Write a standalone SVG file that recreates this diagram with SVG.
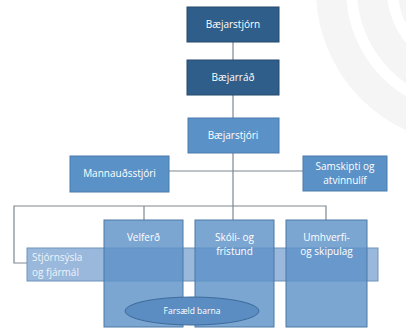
<svg xmlns="http://www.w3.org/2000/svg" width="406" height="332" viewBox="0 0 406 332">
<style>
.dark{fill:#2f5e8a;stroke:#24496d;stroke-width:1}
.mid{fill:#5a92c8;stroke:#4a7bab;stroke-width:1}
.unit{fill:#5e93c8;fill-opacity:0.82;stroke:#4c78a6;stroke-width:1}
.strip{fill:#87acd6;fill-opacity:0.85;stroke:#6f93bb;stroke-width:1}
.t{font-family:"Open Sans","Liberation Sans",sans-serif;font-size:10px;fill:#ffffff;text-anchor:middle}
.tl{font-family:"Open Sans","Liberation Sans",sans-serif;font-size:10px;fill:#eef4fa}
.conn{stroke:#7d8790;stroke-width:1.2;fill:none}
.wm{fill:none;stroke:#f5f5f5;stroke-width:30}
</style>
<rect width="406" height="332" fill="#ffffff"/>
<g id="watermark">
<circle class="wm" cx="470" cy="-10" r="139"/>
<circle class="wm" cx="470" cy="-10" r="98"/>
<circle class="wm" cx="470" cy="-10" r="57"/>
</g>
<g id="connectors">
<line class="conn" x1="233" y1="42" x2="233" y2="60"/>
<line class="conn" x1="233" y1="95" x2="233" y2="118"/>
<line class="conn" x1="233" y1="153" x2="233" y2="206"/>
<line class="conn" x1="169" y1="171" x2="303" y2="171"/>
<polyline class="conn" points="27,263 14,263 14,206 326,206 326,220"/>
<line class="conn" x1="144" y1="206" x2="144" y2="220"/>
<line class="conn" x1="233" y1="206" x2="233" y2="220"/>
</g>
<g id="baejarstjorn">
<rect class="dark" x="187" y="7" width="92" height="35"/>
<text class="t" x="233" y="28">Bæjarstjórn</text>
</g>
<g id="baejarrad">
<rect class="dark" x="187" y="60" width="92" height="35"/>
<text class="t" x="233" y="81">Bæjarráð</text>
</g>
<g id="baejarstjori">
<rect class="mid" x="188" y="118" width="91" height="35"/>
<text class="t" x="233" y="139">Bæjarstjóri</text>
</g>
<g id="mannaudsstjori">
<rect class="mid" x="70" y="156" width="99" height="36"/>
<text class="t" x="119.5" y="177">Mannauðsstjóri</text>
</g>
<g id="samskipti">
<rect class="mid" x="303" y="156" width="84" height="35"/>
<text class="t" x="345" y="170">Samskipti og</text>
<text class="t" x="345" y="184">atvinnulíf</text>
</g>
<g id="stjornsysla">
<rect class="strip" x="27" y="248" width="351" height="33"/>
<text class="tl" x="32" y="261">Stjórnsýsla</text>
<text class="tl" x="32" y="276">og fjármál</text>
</g>
<g id="velferd">
<rect class="unit" x="104" y="220" width="79" height="107"/>
<text class="t" x="143.5" y="241">Velferð</text>
</g>
<g id="skoli">
<rect class="unit" x="195" y="220" width="79" height="107"/>
<text class="t" x="234.5" y="241">Skóli- og</text>
<text class="t" x="234.5" y="255">frístund</text>
</g>
<g id="umhverfi">
<rect class="unit" x="286" y="220" width="81" height="107"/>
<text class="t" x="326.5" y="241">Umhverfi-</text>
<text class="t" x="326.5" y="255">og skipulag</text>
</g>
<g id="farsaeld">
<ellipse cx="192" cy="311" rx="67" ry="14" fill="#5b8dc2" stroke="#3e6b9b" stroke-width="1"/>
<text class="t" x="192" y="314" style="font-size:8.5px">Farsæld barna</text>
</g>
</svg>
